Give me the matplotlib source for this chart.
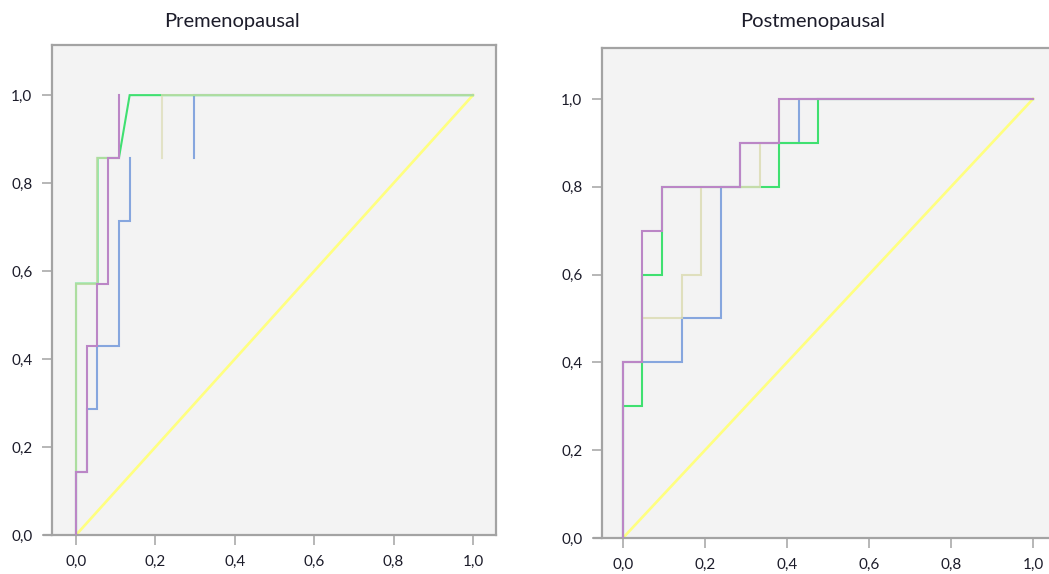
import matplotlib
matplotlib.use("Agg")
import matplotlib.pyplot as plt
import numpy as np

nan = np.nan

# ---------------- data ----------------
tick_values = [0.0, 0.2, 0.4, 0.6, 0.8, 1.0]
tick_labels = ["0,0", "0,2", "0,4", "0,6", "0,8", "1,0"]
titles = ["Premenopausal", "Postmenopausal"]

# Premenopausal: 37 negatives, 7 positives (counts along the drawn ROC paths;
# nan marks a segment that is not visible in the original picture)
pre_n_neg, pre_n_pos = 37, 7
pre_blue_fp = [0, 0, 1, 1, 2, 2, 4, 4, 5, 5, nan, 11, 11, 37]
pre_blue_tp = [0, 1, 1, 2, 2, 3, 3, 5, 5, 6, nan, 6, 7, 7]
pre_green_fp = [0, 0, 2, 2, 4, 5, 37]
pre_green_tp = [0, 4, 4, 6, 6, 7, 7]
pre_beige_fp = [0, 0, 2, 2, 4, nan, 8, 8, 37]
pre_beige_tp = [0, 4, 4, 6, 6, nan, 6, 7, 7]
pre_purple_fp = [0, 0, 1, 1, 2, 2, 3, 3, 4, 4]
pre_purple_tp = [0, 1, 1, 3, 3, 4, 4, 6, 6, 7]

# Postmenopausal: 21 negatives, 10 positives
post_n_neg, post_n_pos = 21, 10
post_blue_fp = [0, 0, 3, 3, 5, 5, 6, 6, 9, 9, 21]
post_blue_tp = [0, 4, 4, 5, 5, 8, 8, 9, 9, 10, 10]
post_green_fp = [0, 0, 1, 1, 2, 2, 8, 8, 10, 10, 21]
post_green_tp = [0, 3, 3, 6, 6, 8, 8, 9, 9, 10, 10]
post_beige_fp = [0, 0, 1, 1, 3, 3, 4, 4, 7, 7, 8, 8, 21]
post_beige_tp = [0, 4, 4, 5, 5, 6, 6, 8, 8, 9, 9, 10, 10]
post_purple_fp = [0, 0, 1, 1, 2, 2, 6, 6, 8, 8, 21]
post_purple_tp = [0, 4, 4, 7, 7, 8, 8, 9, 9, 10, 10]

ref_line = [0.0, 1.0]

# ---------------- style ----------------
plt.rcParams['font.family'] = ['Lato', 'DejaVu Sans']
C_BLUE = '#86a6de'
C_GREEN = '#3fe070'
C_BEIGE = '#dcdcb4'
C_PURPLE = '#bb86c6'
C_YELLOW = '#ffff80'
C_FRAME = '#a3a3a3'
C_TEXT = '#1c1c2a'

W, H = 1049, 574
fig = plt.figure(figsize=(W / 100, H / 100), dpi=100)

def px_axes(l, r, t, b):
    return [l / W, (H - b) / H, (r - l) / W, (b - t) / H]

panels = [
    dict(pos=px_axes(52, 496, 45, 535), xlim=(-0.0605, 1.058), ylim=(0, 1.114),
         n_neg=pre_n_neg, n_pos=pre_n_pos,
         curves=[(pre_blue_fp, pre_blue_tp, C_BLUE, 1.0),
                 (pre_green_fp, pre_green_tp, C_GREEN, 1.0),
                 (pre_beige_fp, pre_beige_tp, C_BEIGE, 0.7),
                 (pre_purple_fp, pre_purple_tp, C_PURPLE, 1.0)],
         title_x=232, ext=9 / 397),
    dict(pos=px_axes(602, 1056, 48, 538), xlim=(-0.051, 1.056), ylim=(0, 1.116),
         n_neg=post_n_neg, n_pos=post_n_pos,
         curves=[(post_blue_fp, post_blue_tp, C_BLUE, 1.0),
                 (post_green_fp, post_green_tp, C_GREEN, 1.0),
                 (post_beige_fp, post_beige_tp, C_BEIGE, 0.85),
                 (post_purple_fp, post_purple_tp, C_PURPLE, 1.0)],
         title_x=813, ext=9 / 410),
]

for p, title in zip(panels, titles):
    ax = fig.add_axes(p['pos'])
    ax.set_facecolor('#f3f3f3')
    ax.plot(ref_line, ref_line, color=C_YELLOW, lw=1.9, zorder=2)
    for fp, tp, col, a in p['curves']:
        ax.plot(np.array(fp) / p['n_neg'], np.array(tp) / p['n_pos'],
                color=col, lw=1.5, alpha=a, zorder=3, solid_joinstyle='miter')
    ax.set_xlim(*p['xlim'])
    ax.set_ylim(*p['ylim'])
    ax.set_xticks(tick_values)
    ax.set_xticklabels(tick_labels)
    ax.set_yticks(tick_values)
    ax.set_yticklabels(tick_labels)
    ax.tick_params(axis='both', direction='out', length=7.2, width=1.1,
                   color=C_FRAME, labelcolor=C_TEXT, labelsize=11, pad=7)
    for s in ax.spines.values():
        s.set_color(C_FRAME)
        s.set_linewidth(1.6)
    # extension of the x-axis line to the left of the frame
    x0 = p['xlim'][0]
    ax.plot([x0 - p['ext'], x0], [0, 0], color=C_FRAME, lw=1.6,
            clip_on=False, solid_capstyle='butt')
    fig.text(p['title_x'] / W, 1 - 22 / H, title, ha='center', va='center',
             fontsize=14.5, color=C_TEXT)

fig.savefig('out.png', dpi=100)
